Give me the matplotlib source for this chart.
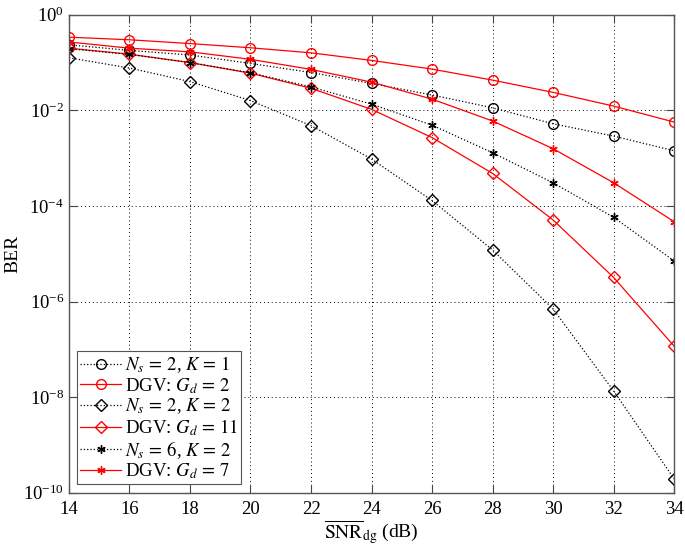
import matplotlib
matplotlib.use("Agg")
import matplotlib.pyplot as plt
import numpy as np

plt.rcParams['font.family'] = ['Liberation Serif', 'DejaVu Serif']
plt.rcParams['mathtext.fontset'] = 'stix'

snr = [14, 16, 18, 20, 22, 24, 26, 28, 30, 32, 34]

ber_ns2_k1 = [0.235, 0.18, 0.144, 0.096, 0.062, 0.0367, 0.021, 0.0113, 5.25e-3, 2.9e-3, 1.43e-3]
ber_dgv_gd2 = [0.34, 0.30, 0.25, 0.204, 0.16, 0.111, 0.073, 0.043, 0.0238, 0.0123, 5.7e-3]
ber_ns2_k2 = [0.126, 0.077, 0.040, 0.016, 4.8e-3, 9.6e-4, 1.3e-4, 1.2e-5, 7e-7, 1.35e-8, 1.96e-10]
ber_dgv_gd11 = [0.2, 0.15, 0.10, 0.06, 0.029, 0.0105, 2.7e-3, 4.8e-4, 5.1e-5, 3.2e-6, 1.17e-7]
ber_ns6_k2 = [0.195, 0.148, 0.10, 0.0613, 0.031, 0.0135, 4.9e-3, 1.3e-3, 3.05e-4, 5.8e-5, 7.1e-6]
ber_dgv_gd7 = [0.27, 0.20, 0.168, 0.117, 0.072, 0.039, 0.0172, 6.0e-3, 1.58e-3, 3.06e-4, 4.7e-5]

labels = [r'$N_s\,=\,2$, $K\,=\,1$', r'DGV: $G_d\,=\,2$', r'$N_s\,=\,2$, $K\,=\,2$',
          r'DGV: $G_d\,=\,11$', r'$N_s\,=\,6$, $K\,=\,2$', r'DGV: $G_d\,=\,7$']
xticks = [14, 16, 18, 20, 22, 24, 26, 28, 30, 32, 34]
yticks = [1e0, 1e-2, 1e-4, 1e-6, 1e-8, 1e-10]

fig = plt.figure(figsize=(6.85, 5.48), dpi=100)
ax = fig.add_axes([0.1007, 0.101, 0.8833, 0.872])

ms = 7
ax.semilogy(snr, ber_ns2_k1, linestyle=':', color='k', lw=0.9, marker='o', mfc='none', mec='k', ms=ms, label=labels[0])
ax.semilogy(snr, ber_dgv_gd2, linestyle='-', color='red', lw=0.9, marker='o', mfc='none', mec='red', ms=ms, label=labels[1])
ax.semilogy(snr, ber_ns2_k2, linestyle=':', color='k', lw=0.9, marker='D', mfc='none', mec='k', ms=6.5, label=labels[2])
ax.semilogy(snr, ber_dgv_gd11, linestyle='-', color='red', lw=0.9, marker='D', mfc='none', mec='red', ms=6.5, label=labels[3])
ax.semilogy(snr, ber_ns6_k2, linestyle=':', color='k', lw=0.9, marker=(6, 2, 0), mfc='none', mec='k', ms=6, label=labels[4])
ax.semilogy(snr, ber_dgv_gd7, linestyle='-', color='red', lw=0.9, marker=(6, 2, 0), mfc='none', mec='red', ms=6, label=labels[5])

ax.set_xlim(14, 34)
ax.set_ylim(1e-10, 1)
ax.set_xticks(xticks)
ax.set_xticklabels([str(v) for v in xticks])
ax.set_yticks(yticks)
ax.yaxis.set_minor_locator(matplotlib.ticker.NullLocator())
ax.grid(True, which='major', linestyle=(0, (1, 3)), color='k', lw=0.7)
ax.tick_params(direction='in', top=True, right=True, labelsize=13.5, length=6, width=0.8,
               colors='#444444', labelcolor='k')
ax.tick_params(axis='x', pad=6)
for s in ax.spines.values():
    s.set_color('#555555')
    s.set_linewidth(1.0)

ax.set_xlabel(r'$\overline{\mathrm{SNR}}_{\mathrm{dg}}$ (dB)', fontsize=14, labelpad=0)
ax.set_ylabel('BER', fontsize=14)
ax.yaxis.set_label_coords(-0.078, 0.5)

leg = ax.legend(loc='lower left', fontsize=13.5, labelspacing=0.05, handlelength=2.2,
                handletextpad=0.2, borderpad=0.15, borderaxespad=0.45, fancybox=False,
                framealpha=1, edgecolor='#555555')
leg.get_frame().set_linewidth(0.8)

fig.savefig('out.png', dpi=100)
